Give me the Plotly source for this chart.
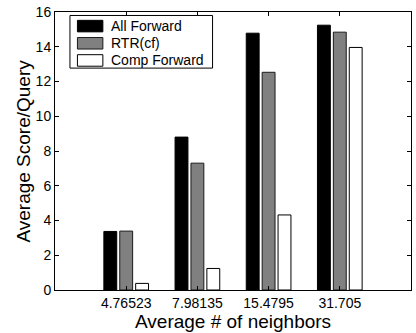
import plotly.graph_objects as go

# Average number of neighbors per configuration (category labels)
neighbors = ["4.76523", "7.98135", "15.4795", "31.705"]
positions = [1, 2, 3, 4]

# Average score per query for each forwarding scheme
all_forward = [3.37, 8.80, 14.78, 15.24]
rtr_cf = [3.39, 7.30, 12.53, 14.84]
comp_forward = [0.38, 1.24, 4.32, 13.96]

series = [
    ("All Forward", all_forward, "#000000", "#000000"),
    ("RTR(cf)", rtr_cf, "#808080", "#1a1a1a"),
    ("Comp Forward", comp_forward, "#ffffff", "#000000"),
]

font = "Liberation Sans, Arial, Helvetica, sans-serif"

# plot-area size in pixels, used to place the boxed key in paper units
W, H = 416, 333
ML, MR, MT, MB = 55, 4, 10, 43
PW, PH = W - ML - MR, H - MT - MB


def px_x(px):
    return (px - ML) / PW


def px_y(py):
    return (H - MB - py) / PH


fig = go.Figure()
for name, vals, fill, edge in series:
    fig.add_trace(go.Bar(
        name=name, x=positions, y=vals,
        marker=dict(color=fill, line=dict(color=edge, width=1)),
        showlegend=False,
    ))

# boxed key with wide swatches
shapes = [dict(
    type="rect", xref="paper", yref="paper", layer="above",
    x0=px_x(70), x1=px_x(213), y0=px_y(13.5), y1=px_y(66.5),
    line=dict(color="black", width=1), fillcolor="white",
)]
annotations = []
for i, (name, _, fill, edge) in enumerate(series):
    cy = 24.2 + 17.3 * i
    shapes.append(dict(
        type="rect", xref="paper", yref="paper", layer="above",
        x0=px_x(77.5), x1=px_x(103), y0=px_y(cy - 5.8), y1=px_y(cy + 5.8),
        line=dict(color=edge, width=1), fillcolor=fill,
    ))
    annotations.append(dict(
        text=name, xref="paper", yref="paper", x=px_x(109), y=px_y(cy),
        xanchor="left", yanchor="middle", showarrow=False,
        font=dict(size=14, color="black", family=font),
    ))

# axis titles
annotations.append(dict(
    text="Average # of neighbors", xref="paper", yref="paper",
    x=px_x(234), y=px_y(322), xanchor="center", yanchor="middle",
    showarrow=False, font=dict(size=19, color="black", family=font),
))
annotations.append(dict(
    text="Average Score/Query", xref="paper", yref="paper",
    x=px_x(22.5), y=0.5, xanchor="center", yanchor="middle", textangle=-90,
    showarrow=False, font=dict(size=19, color="black", family=font),
))

fig.update_layout(
    width=W, height=H,
    margin=dict(l=ML, r=MR, t=MT, b=MB),
    paper_bgcolor="white", plot_bgcolor="white",
    barmode="group", bargap=0.33, bargroupgap=0.19,
    font=dict(family=font, size=14, color="black"),
    showlegend=False,
    shapes=shapes,
    annotations=annotations,
    xaxis=dict(
        range=[0, 5], tickvals=positions, ticktext=neighbors,
        showline=True, linecolor="black", linewidth=1, mirror="ticks",
        ticks="inside", ticklen=4, tickcolor="black",
        showgrid=False, zeroline=False,
        tickfont=dict(size=14),
    ),
    yaxis=dict(
        range=[0, 16], dtick=2,
        showline=True, linecolor="black", linewidth=1, mirror="ticks",
        ticks="inside", ticklen=4, tickcolor="black",
        showgrid=False, zeroline=False,
        tickfont=dict(size=14),
    ),
)

fig.write_html("out.html")
